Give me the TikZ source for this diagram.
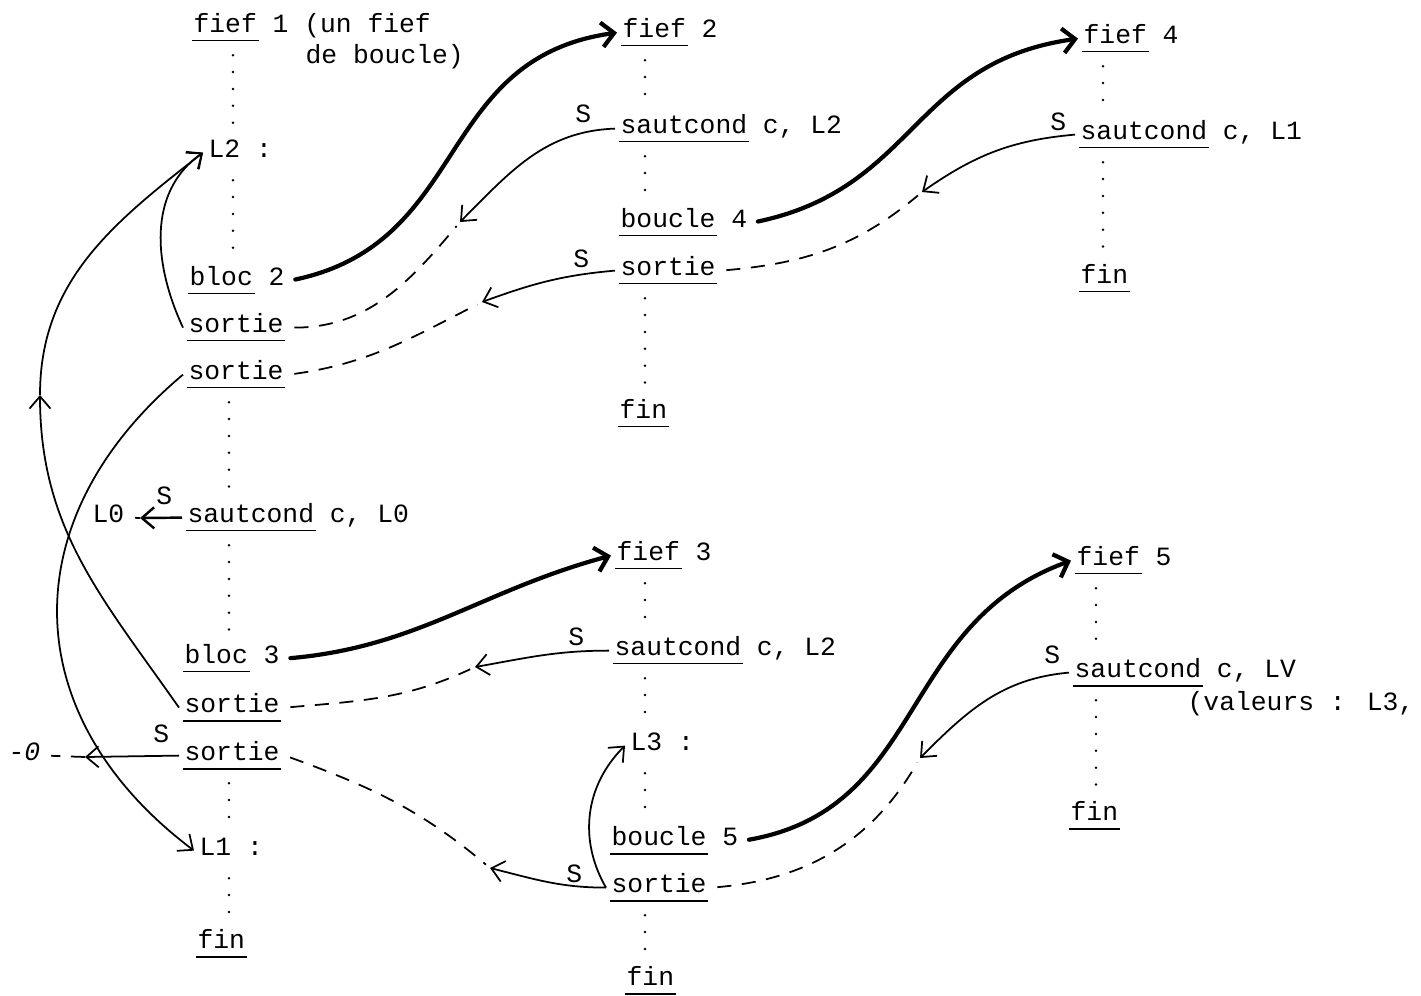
\documentclass[tikz,border=0pt]{standalone}
\usepackage{fontspec}
\setmainfont{Liberation Mono}
\usetikzlibrary{arrows.meta}

% mot souligne (a la machine a ecrire)
\newcommand{\kw}[1]{\leavevmode\setbox0\hbox{#1}\kern-1pt\rlap{\vrule height -4.3pt depth 5.4pt width \dimexpr\wd0+2pt\relax}\kern1pt\box0\relax}

\tikzset{
  instr/.style={anchor=base west, inner sep=3pt, text height=11pt, text depth=6pt},
  lettre/.style={anchor=base west, inner sep=0pt},
  lien/.style={line width=2.4pt, line cap=round, shorten <=3pt, -{Straight Barb[length=7pt,width=14pt]}},
  saut/.style={line width=1pt, -{Straight Barb[length=7pt,width=12pt]}},
  tiret/.style={line width=1pt, dash pattern=on 8pt off 6pt, shorten <=3pt, shorten >=3pt},
  pointilles/.style={line width=1.6pt, line cap=round, dash pattern=on 0pt off 9.6pt, shorten <=4pt, shorten >=2pt},
}

\begin{document}
\begin{tikzpicture}[x=0.02cm, y=0.02cm, font=\fontsize{15}{18}\selectfont]
  \useasboundingbox (0,0) rectangle (1421,-995);

  % Fief 1
  \node[instr] (f1) at (188,-32) {\kw{fief} 1 (un fief};
  \node[instr] (f1b) at (300,-63) {de boucle)};
  \node[instr] (l2) at (203,-157) {L2 :};
  \node[instr] (b2) at (184,-285) {\kw{bloc} 2};
  \node[instr] (s1a) at (183,-332) {\kw{sortie}};
  \node[instr] (s1b) at (183,-379) {\kw{sortie}};
  \node[instr] (sc0) at (182,-522) {\kw{sautcond} c, L0};
  \node[instr] (lz) at (87,-522) {L0};
  \node[instr] (b3) at (179,-663) {\kw{bloc} 3};
  \node[instr] (s3a) at (179,-712) {\kw{sortie}};
  \node[instr] (s3b) at (179,-760) {\kw{sortie}};
  \node[instr] (l1) at (194,-855) {L1 :};
  \node[instr] (fin1) at (192,-948) {\kw{fin}};
  \node[instr] (lzb) at (3,-760) {\textit{-0}};

  % Fief 2
  \node[instr] (f2) at (617,-37) {\kw{fief} 2};
  \node[instr] (sc2) at (615,-133) {\kw{sautcond} c, L2};
  \node[instr] (bo4) at (615,-227) {\kw{boucle} 4};
  \node[instr] (s2) at (615,-275) {\kw{sortie}};
  \node[instr] (fin2) at (614,-418) {\kw{fin}};

  % Fief 4
  \node[instr] (f4) at (1078,-43) {\kw{fief} 4};
  \node[instr] (sc4) at (1075,-139) {\kw{sautcond} c, L1};
  \node[instr] (fin4) at (1075,-283) {\kw{fin}};

  % Fief 3
  \node[instr] (f3) at (611,-560) {\kw{fief} 3};
  \node[instr] (sc3) at (609,-655) {\kw{sautcond} c, L2};
  \node[instr] (l3) at (625,-750) {L3 :};
  \node[instr] (bo5) at (606,-845) {\kw{boucle} 5};
  \node[instr] (s3) at (606,-892) {\kw{sortie}};
  \node[instr] (fin3) at (621,-985) {\kw{fin}};

  % Fief 5
  \node[instr] (f5) at (1071,-565) {\kw{fief} 5};
  \node[instr] (sc5) at (1069,-677) {\kw{sautcond} c, LV};
  \node[instr] (val) at (1182,-710) {(valeurs : L3,};
  \node[instr] (fin5) at (1065,-820) {\kw{fin}};

  % les S
  \node[lettre] (S1) at (575,-122) {S};
  \node[lettre] (S2) at (573,-267) {S};
  \node[lettre] (S3) at (1050,-130) {S};
  \node[lettre] (S4) at (156,-504) {S};
  \node[lettre] (S5) at (568,-645) {S};
  \node[lettre] (S6) at (153,-742) {S};
  \node[lettre] (S7) at (1044,-663) {S};
  \node[lettre] (S8) at (566,-882) {S};

  % pointilles
  \coordinate (x1) at (233,0);
  \coordinate (x1b) at (229,0);
  \coordinate (x2) at (645,0);
  \coordinate (x3) at (1103,0);
  \coordinate (x3b) at (1096,0);
  \foreach \c/\a/\b in {x1/f1/l2, x1/l2/b2, x1b/s1b/sc0, x1b/sc0/b3, x1b/s3b/l1, x1b/l1/fin1,
      x2/f2/sc2, x2/sc2/bo4, x2/s2/fin2, x3/f4/sc4, x3/sc4/fin4,
      x2/f3/sc3, x2/sc3/l3, x2/l3/bo5, x2/s3/fin3, x3b/f5/sc5, x3b/sc5/fin5}
    \draw[pointilles] (\c |- \a.south) -- (\c |- \b.north);

  % appels des fiefs
  \draw[lien] (b2.east) to[out=12,in=188,looseness=1.15] (f2.west);
  \draw[lien] (bo4.east) to[out=12,in=188,looseness=1.15] (f4.west);
  \draw[lien] (b3.east) to[out=5,in=195] (f3.west);
  \draw[lien] (bo5.east) to[out=10,in=200,looseness=1.1] (f5.west);

  % sauts et sorties
  \coordinate (pA) at (460,-222);
  \coordinate (pB) at (482,-302);
  \coordinate (pE) at (922,-192);
  \coordinate (pG) at (475,-667);
  \coordinate (pH) at (490,-868);
  \coordinate (pK) at (920,-758);
  \coordinate (pL) at (140,-518);
  \coordinate (pM) at (85,-757);
  \coordinate (pO) at (40,-395);

  \draw[saut] (sc2.west) to[out=182,in=45] (pA);
  \draw[tiret] (s1a.east) to[out=0,in=230] (pA);
  \draw[saut] (s2.west) to[out=185,in=20] (pB);
  \draw[tiret] (s1b.east) to[out=8,in=207] (pB);
  \draw[saut] (sc4.west) to[out=185,in=35] (pE);
  \draw[tiret] (s2.east) to[out=5,in=220] (pE);
  \draw[saut] (sc3.west) to[out=180,in=10] (pG);
  \draw[tiret] (s3a.east) to[out=5,in=205] (pG);
  \draw[saut] (s3.west) to[out=180,in=-14] (pH);
  \draw[tiret] (s3b.east) to[out=-20,in=140] (pH);
  \draw[saut] (sc5.west) to[out=185,in=45] (pK);
  \draw[tiret] (s3.east) to[out=5,in=240] (pK);
  \draw[saut, line width=1.4pt] (sc0.west) -- (pL);
  \draw[tiret, shorten <=0pt] (pL) -- (lz.east);
  \draw[saut] (s3b.west) -- (pM);
  \draw[tiret, shorten <=0pt] (pM) -- (lzb.east);

  % retours vers les etiquettes
  \draw[saut] (s1a.west) to[out=115,in=215] (l2.west);
  \draw[saut] (s3a.west) to[out=125,in=-90] (pO);
  \draw[saut] (pO) to[out=90,in=218] (l2.west);
  \draw[saut] (s1b.west) to[out=220,in=143,looseness=1.2] (l1.west);
  \draw[saut] (s3.west) to[out=120,in=225] (l3.west);
\end{tikzpicture}
\end{document}
